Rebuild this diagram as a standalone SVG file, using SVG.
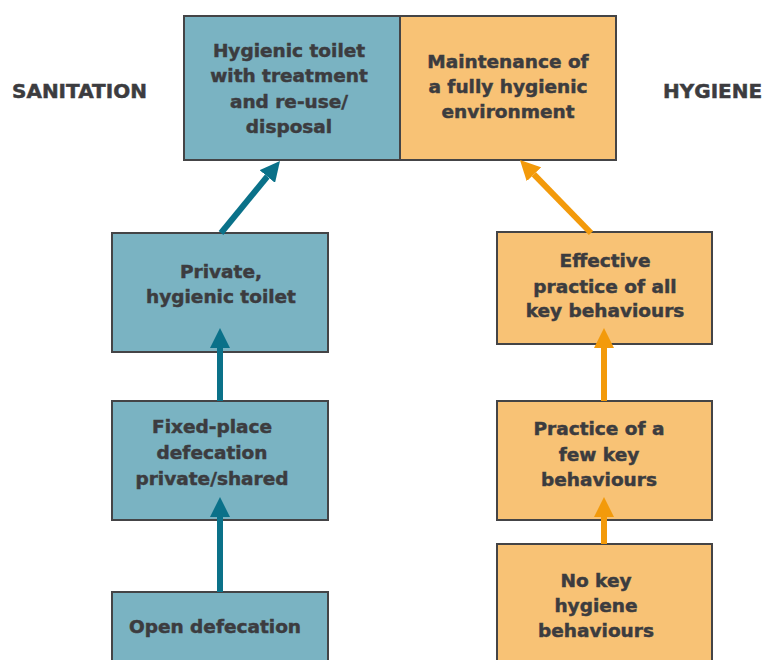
<svg xmlns="http://www.w3.org/2000/svg" width="766" height="660" viewBox="0 0 766 660">
<defs>
<style>
.t{font-family:"DejaVu Sans","Liberation Sans",sans-serif;font-weight:bold;font-size:18.5px;fill:#3c3c3f;stroke:#3c3c3f;stroke-width:0.5;text-anchor:middle}
.h{font-family:"DejaVu Sans","Liberation Sans",sans-serif;font-weight:bold;font-size:20px;fill:#3c3c3f;stroke:#3c3c3f;stroke-width:0.5}
.b{fill:#7ab3c2;stroke:#444446;stroke-width:2}
.o{fill:#f8c275;stroke:#444446;stroke-width:2}
.ab{stroke:#0a7189;stroke-width:6;fill:none}
.ao{stroke:#f39a0b;stroke-width:6;fill:none}
</style>
<marker id="mb" viewBox="0 0 10 10" refX="0" refY="5" markerUnits="userSpaceOnUse" markerWidth="20" markerHeight="20" orient="auto"><path d="M0,0 L10,5 L0,10 Z" fill="#0a7189"/></marker>
<marker id="mo" viewBox="0 0 10 10" refX="0" refY="5" markerUnits="userSpaceOnUse" markerWidth="20" markerHeight="20" orient="auto"><path d="M0,0 L10,5 L0,10 Z" fill="#f39a0b"/></marker>
</defs>
<rect width="766" height="660" fill="#fff"/>
<text class="h" x="12" y="98">SANITATION</text>
<text class="h" x="663" y="98">HYGIENE</text>
<g id="n-hygienic-toilet-treatment">
<rect class="b" x="184" y="16" width="216" height="144"/>
<text class="t"><tspan x="289" y="57">Hygienic toilet</tspan><tspan x="289" y="82">with treatment</tspan><tspan x="289" y="108">and re-use/</tspan><tspan x="289" y="133">disposal</tspan></text>
</g>
<g id="n-maintenance">
<rect class="o" x="400" y="16" width="216" height="144"/>
<text class="t"><tspan x="508" y="68">Maintenance of</tspan><tspan x="508" y="93">a fully hygienic</tspan><tspan x="508" y="118">environment</tspan></text>
</g>
<g id="n-private-toilet">
<rect class="b" x="112" y="233" width="216" height="119"/>
<text class="t"><tspan x="221" y="278">Private,</tspan><tspan x="221" y="303">hygienic toilet</tspan></text>
</g>
<g id="n-fixed-place">
<rect class="b" x="112" y="401" width="216" height="119"/>
<text class="t"><tspan x="212" y="433">Fixed-place</tspan><tspan x="212" y="459">defecation</tspan><tspan x="212" y="485">private/shared</tspan></text>
</g>
<g id="n-open-defecation">
<rect class="b" x="112" y="592" width="216" height="80"/>
<text class="t"><tspan x="215" y="633">Open defecation</tspan></text>
</g>
<g id="n-effective-practice">
<rect class="o" x="497" y="232" width="215" height="112"/>
<text class="t"><tspan x="605" y="267">Effective</tspan><tspan x="605" y="293">practice of all</tspan><tspan x="605" y="317">key behaviours</tspan></text>
</g>
<g id="n-practice-few">
<rect class="o" x="497" y="401" width="215" height="119"/>
<text class="t"><tspan x="599" y="435">Practice of a</tspan><tspan x="599" y="461">few key</tspan><tspan x="599" y="486">behaviours</tspan></text>
</g>
<g id="n-no-key">
<rect class="o" x="497" y="544" width="215" height="128"/>
<text class="t"><tspan x="596" y="587">No key</tspan><tspan x="596" y="612">hygiene</tspan><tspan x="596" y="637">behaviours</tspan></text>
</g>
<g id="connectors">
<line class="ab" x1="221" y1="233" x2="267.3" y2="176.5" marker-end="url(#mb)"/>
<line class="ab" x1="220" y1="401" x2="220" y2="348" marker-end="url(#mb)"/>
<line class="ab" x1="220" y1="592" x2="220" y2="517" marker-end="url(#mb)"/>
<line class="ao" x1="591" y1="233" x2="533.9" y2="174.3" marker-end="url(#mo)"/>
<line class="ao" x1="604" y1="401" x2="604" y2="348" marker-end="url(#mo)"/>
<line class="ao" x1="604" y1="544" x2="604" y2="517" marker-end="url(#mo)"/>
</g>
</svg>
